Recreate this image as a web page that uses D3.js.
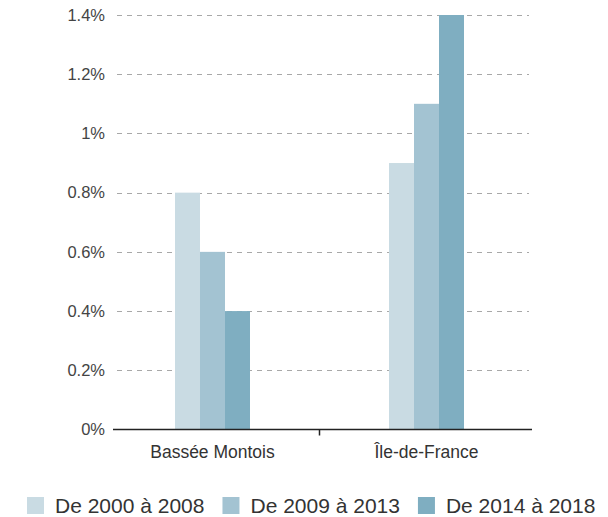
<!DOCTYPE html>
<html>
<head>
<meta charset="utf-8">
<script src="https://cdn.jsdelivr.net/npm/d3@7"></script>
<style>
  html, body { margin: 0; padding: 0; background: #fff; }
  svg { display: block; font-family: Arial, "Liberation Sans", sans-serif; }
</style>
</head>
<body>
<div id="chart"></div>
<script>
// chart data
const categories = ['Bassée Montois', 'Île-de-France'];
const seriesNames = ['De 2000 à 2008', 'De 2009 à 2013', 'De 2014 à 2018'];
const serie2000 = [0.8, 0.9];
const serie2009 = [0.6, 1.1];
const serie2014 = [0.4, 1.4];
const yTicks = [0, 0.2, 0.4, 0.6, 0.8, 1, 1.2, 1.4];

const seriesValues = [serie2000, serie2009, serie2014];
const colors = ['#c9dbe3', '#a3c3d2', '#7faec1'];

const width = 608;
const height = 517;
const axisLeft = 113;
const axisRight = 532;
const y0 = 429.5;
const yTop = 15;
const groupWidth = 75;

const svg = d3.select('#chart').append('svg')
  .attr('width', width)
  .attr('height', height);

const x0 = d3.scaleBand()
  .domain(categories)
  .range([105.5, 533.5])
  .padding(0);

const x1 = d3.scaleBand()
  .domain(seriesNames)
  .range([0, groupWidth])
  .padding(0);

const y = d3.scaleLinear()
  .domain([0, 1.4])
  .range([y0, yTop]);

// gridlines
svg.append('g')
  .selectAll('line')
  .data(yTicks.filter(d => d > 0))
  .enter().append('line')
  .attr('x1', axisLeft + 4)
  .attr('x2', axisRight - 3)
  .attr('y1', d => Math.round(y(d)) + 0.5)
  .attr('y2', d => Math.round(y(d)) + 0.5)
  .attr('stroke', '#a8a8a8')
  .attr('stroke-width', 1)
  .attr('stroke-dasharray', '5,5');

// y tick labels
const fmt = d => (Math.round(d * 10) / 10).toString() + '%';
svg.append('g')
  .selectAll('text')
  .data(yTicks)
  .enter().append('text')
  .attr('x', 105)
  .attr('y', d => y(d))
  .attr('dy', '0.35em')
  .attr('text-anchor', 'end')
  .attr('fill', '#444')
  .style('font-size', '16.5px')
  .text(fmt);

// bars
const groups = svg.append('g')
  .selectAll('g')
  .data(categories)
  .enter().append('g')
  .attr('transform', d => `translate(${x0(d) + (x0.bandwidth() - groupWidth) / 2},0)`);

groups.selectAll('rect')
  .data((c, ci) => seriesNames.map((s, si) => ({ serie: s, index: si, value: seriesValues[si][ci] })))
  .enter().append('rect')
  .attr('x', d => x1(d.serie))
  .attr('y', d => y(d.value))
  .attr('width', x1.bandwidth())
  .attr('height', d => y0 - y(d.value))
  .attr('fill', d => colors[d.index]);

// x axis
const xAxis = svg.append('g');
xAxis.append('line')
  .attr('x1', axisLeft)
  .attr('x2', axisRight)
  .attr('y1', y0)
  .attr('y2', y0)
  .attr('stroke', '#222')
  .attr('stroke-width', 1.5);
xAxis.selectAll('.divider')
  .data(categories.slice(1))
  .enter().append('line')
  .attr('class', 'divider')
  .attr('x1', d => x0(d))
  .attr('x2', d => x0(d))
  .attr('y1', y0)
  .attr('y2', y0 + 6)
  .attr('stroke', '#222')
  .attr('stroke-width', 1.5);
xAxis.selectAll('.cat')
  .data(categories)
  .enter().append('text')
  .attr('class', 'cat')
  .attr('x', d => x0(d) + x0.bandwidth() / 2)
  .attr('y', 458)
  .attr('text-anchor', 'middle')
  .attr('fill', '#333')
  .style('font-size', '17.5px')
  .text(d => d);

// legend
const legend = svg.append('g');
let lx = 27;
seriesNames.forEach((name, i) => {
  legend.append('rect')
    .attr('x', lx)
    .attr('y', 497)
    .attr('width', 17)
    .attr('height', 17)
    .attr('fill', colors[i]);
  const t = legend.append('text')
    .attr('x', lx + 28)
    .attr('y', 513)
    .attr('fill', '#333')
    .style('font-size', '21px')
    .text(name);
  lx += 28 + t.node().getComputedTextLength() + 18;
});
</script>
</body>
</html>
